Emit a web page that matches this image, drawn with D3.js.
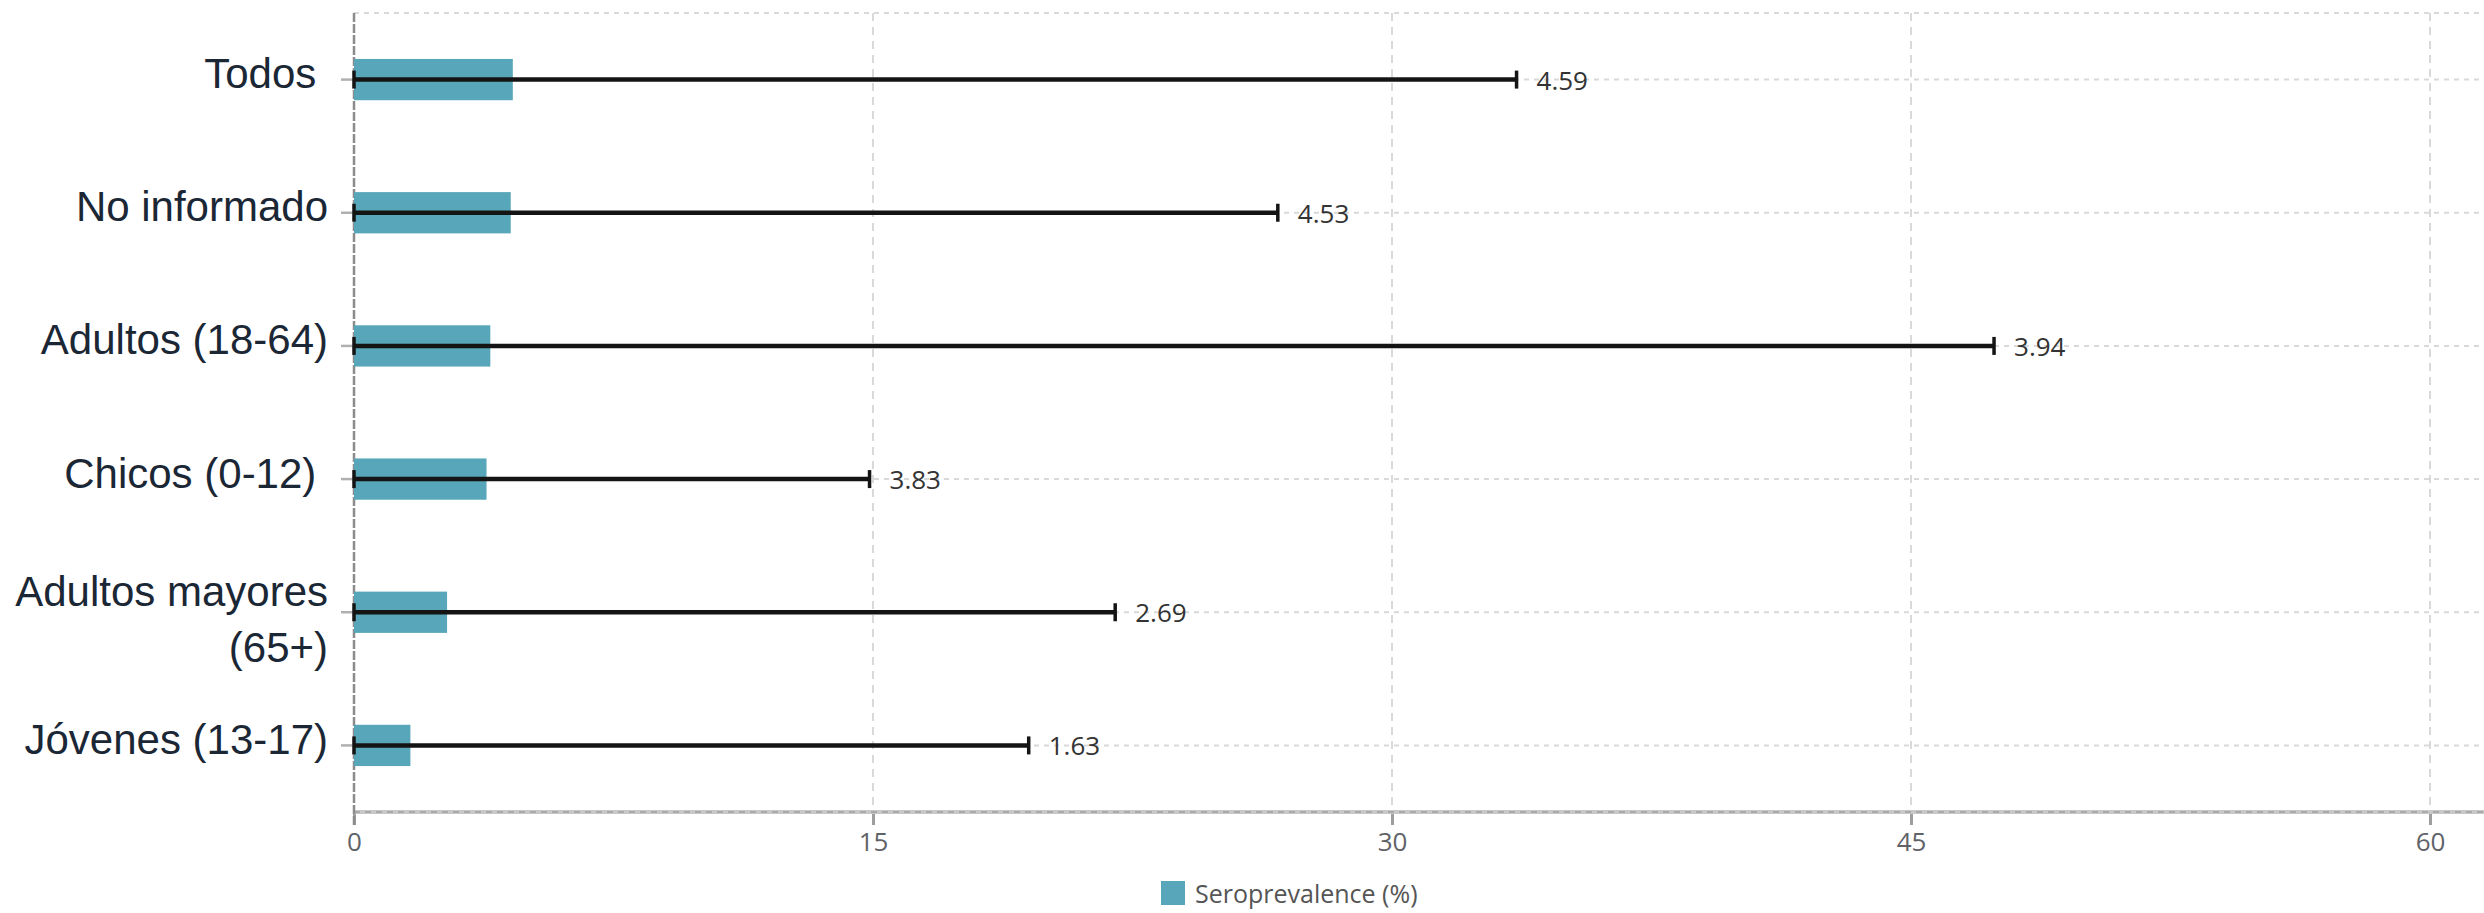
<!DOCTYPE html>
<html>
<head>
<meta charset="utf-8">
<script src="https://cdn.jsdelivr.net/npm/d3@7"></script>
<style>
  html, body { margin: 0; padding: 0; background: #ffffff; }
  svg { display: block; }
  .cat { white-space: pre; }
</style>
</head>
<body>
<svg id="chart" width="2484" height="913"></svg>
<script>
// Age groups (top to bottom); "\n" splits a label onto two lines
const categories = ["Todos ", "No informado", "Adultos (18-64)", "Chicos (0-12) ", "Adultos mayores\n(65+)", "Jóvenes (13-17)"];
// Seroprevalence (%) per group
const seroprevalence = [4.59, 4.53, 3.94, 3.83, 2.69, 1.63];
// Error bar limits (%)
const errorLow = [0, 0, 0, 0, 0, 0];
const errorHigh = [33.6, 26.7, 47.4, 14.9, 22.0, 19.5];
// Axis ticks
const xTicks = [0, 15, 30, 45, 60];
const seriesName = "Seroprevalence (%)";

const W = 2484, H = 913;
const plot = { left: 354, right: 2430, top: 13, bottom: 812, edge: 2484 };
const barColor = "#57a6b9";

const svg = d3.select("#chart");

const x = d3.scaleLinear().domain([0, 60]).range([plot.left, plot.right]);
const y = d3.scaleBand().domain(categories).range([plot.top, plot.bottom]).padding(0);
const rowMid = d => y(d) + y.bandwidth() / 2;
const barH = y.bandwidth() * 0.31;

// Grid: top border, dotted row lines, dashed vertical lines
const grid = svg.append("g");
grid.append("line")
  .attr("x1", plot.left).attr("x2", plot.edge)
  .attr("y1", plot.top).attr("y2", plot.top)
  .attr("stroke", "#d9d9d9").attr("stroke-width", 2).attr("stroke-dasharray", "5,5");
grid.selectAll("line.row").data(categories).join("line")
  .attr("class", "row")
  .attr("x1", plot.left).attr("x2", plot.edge)
  .attr("y1", rowMid).attr("y2", rowMid)
  .attr("stroke", "#d9d9d9").attr("stroke-width", 2).attr("stroke-dasharray", "5,5");
grid.selectAll("line.col").data(xTicks.filter(t => t > 0)).join("line")
  .attr("class", "col")
  .attr("x1", x).attr("x2", x)
  .attr("y1", plot.top).attr("y2", plot.bottom)
  .attr("stroke", "#d9d9d9").attr("stroke-width", 2).attr("stroke-dasharray", "8,6");

// Bottom axis
const xAxis = svg.append("g").attr("transform", `translate(0,${plot.bottom})`)
  .call(d3.axisBottom(x).tickValues(xTicks).tickSize(13).tickPadding(8));
xAxis.select(".domain").remove();
xAxis.selectAll(".tick line").attr("stroke", "#9e9e9e").attr("stroke-width", 3);
xAxis.selectAll(".tick text")
  .attr("fill", "#5f6368").attr("font-family", "'Open Sans', sans-serif").attr("font-size", 26);
svg.append("line")
  .attr("x1", plot.left).attr("x2", plot.edge)
  .attr("y1", plot.bottom).attr("y2", plot.bottom)
  .attr("stroke", "#c8c8c8").attr("stroke-width", 4);
svg.append("line")
  .attr("x1", plot.left).attr("x2", plot.edge)
  .attr("y1", plot.bottom).attr("y2", plot.bottom)
  .attr("stroke", "#a0a0a0").attr("stroke-width", 1.5).attr("stroke-dasharray", "6,5");

// Left axis
const yAxis = svg.append("g").attr("transform", `translate(${plot.left},0)`)
  .call(d3.axisLeft(y).tickSize(13).tickFormat(""));
yAxis.select(".domain").remove();
yAxis.selectAll(".tick line").attr("stroke", "#b0b0b0").attr("stroke-width", 2.5);
svg.append("line")
  .attr("x1", plot.left).attr("x2", plot.left)
  .attr("y1", plot.top).attr("y2", plot.bottom + 13)
  .attr("stroke", "#8c8c8c").attr("stroke-width", 2.5).attr("stroke-dasharray", "9,2");

// Category labels
const labels = svg.append("g");
categories.forEach(c => {
  const lines = c.split("\n");
  const lh = 56;
  const t = labels.append("text")
    .attr("class", "cat")
    .attr("x", plot.left - 26)
    .attr("text-anchor", "end")
    .attr("font-family", "'Liberation Sans', Arial, sans-serif")
    .attr("font-size", 42)
    .attr("fill", "#1b2735");
  lines.forEach((ln, i) => {
    const off = (i - (lines.length - 1) / 2) * lh + (lines.length > 1 ? 7 : -6);
    t.append("tspan")
      .attr("x", plot.left - 26)
      .attr("y", rowMid(c) + off)
      .attr("dominant-baseline", "central")
      .text(ln);
  });
});

// Bars
svg.append("g").selectAll("rect").data(categories).join("rect")
  .attr("x", x(0))
  .attr("y", d => rowMid(d) - barH / 2)
  .attr("width", (d, i) => x(seroprevalence[i]) - x(0))
  .attr("height", barH)
  .attr("fill", barColor);

// Error bars
const eb = svg.append("g").attr("stroke", "#141414").attr("stroke-width", 4.5);
categories.forEach((c, i) => {
  const cy = rowMid(c);
  eb.append("line").attr("x1", x(errorLow[i])).attr("x2", x(errorHigh[i])).attr("y1", cy).attr("y2", cy);
  [errorLow[i], errorHigh[i]].forEach(v => {
    eb.append("line").attr("x1", x(v)).attr("x2", x(v)).attr("y1", cy - 9).attr("y2", cy + 9).attr("stroke-width", 3.5);
  });
});

// Value labels after each error bar
svg.append("g").selectAll("text").data(categories).join("text")
  .attr("x", (d, i) => x(errorHigh[i]) + 20)
  .attr("y", d => rowMid(d))
  .attr("dominant-baseline", "central")
  .attr("font-family", "'Open Sans', sans-serif")
  .attr("font-size", 26)
  .attr("fill", "#333333")
  .text((d, i) => seroprevalence[i].toFixed(2));

// Legend
const lg = svg.append("g").attr("transform", "translate(1161,893)");
lg.append("rect").attr("x", 0).attr("y", -12).attr("width", 24).attr("height", 24).attr("fill", barColor);
lg.append("text").attr("x", 34).attr("y", 0)
  .attr("dominant-baseline", "central")
  .attr("font-family", "'Open Sans', sans-serif")
  .attr("font-size", 25)
  .attr("fill", "#555555")
  .text(seriesName);
</script>
</body>
</html>
